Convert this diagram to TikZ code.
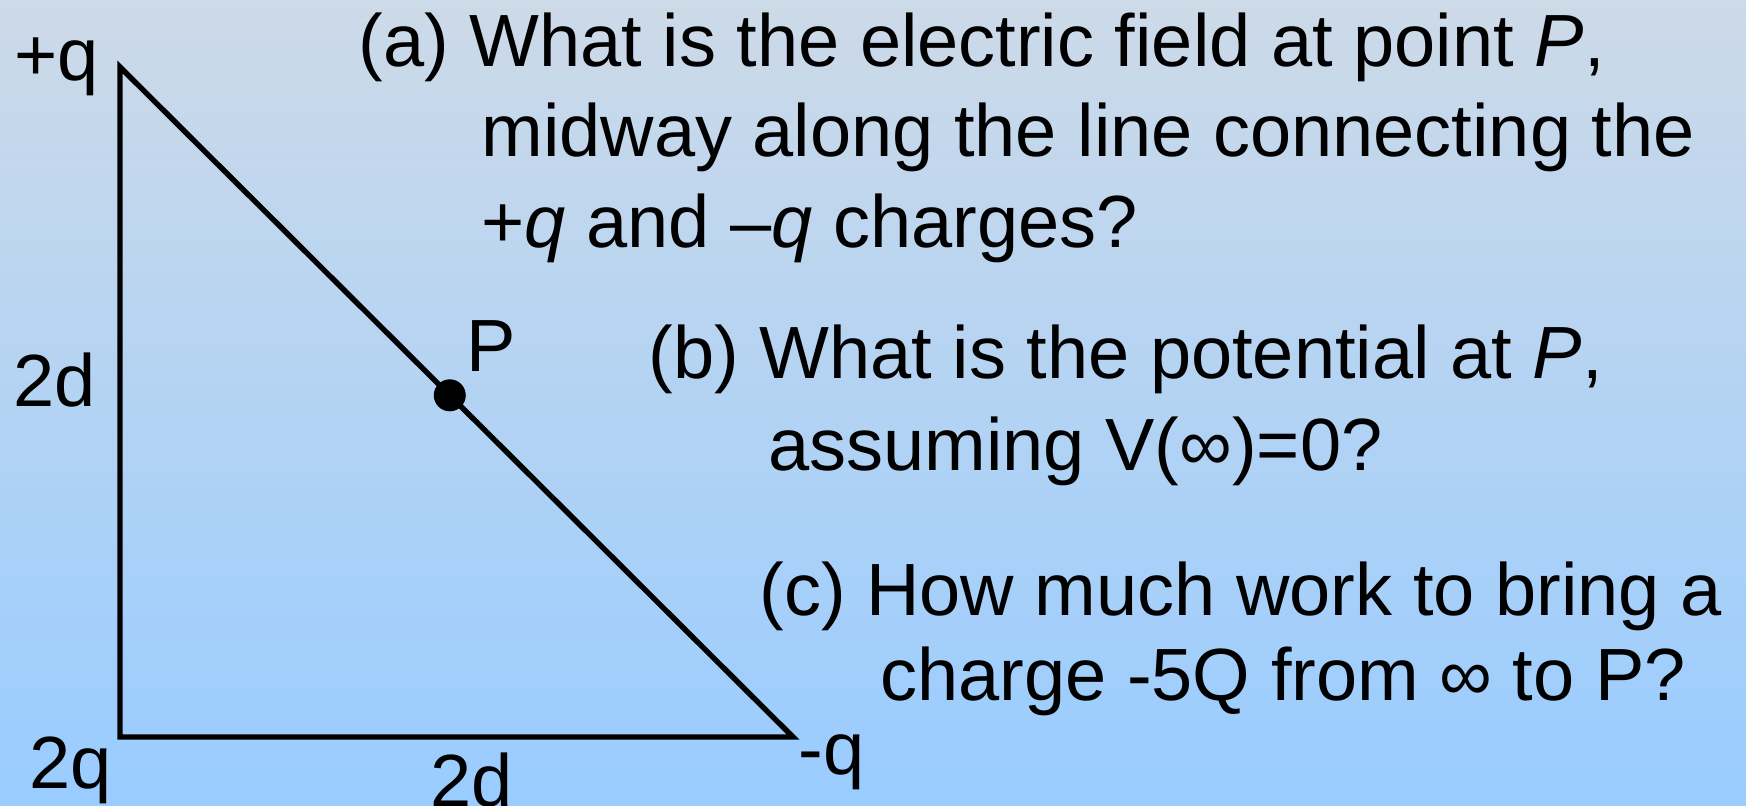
\documentclass[tikz,border=0pt]{standalone}
\usepackage{fontspec}
\setmainfont{Liberation Sans}
\usetikzlibrary{calc}
\definecolor{bgtop}{RGB}{205,218,232}
\definecolor{bgbottom}{RGB}{153,204,255}

\begin{document}
\begin{tikzpicture}
[
	x=0.5pt, y=-0.5pt,
	txt/.style={anchor=base west,inner sep=0pt,font=\fontsize{37}{44}\selectfont},
	side/.style={line width=2.7pt},
	dotpt/.style={circle,fill,inner sep=0pt,minimum size=16pt}
]

	% background
	\shade[top color=bgtop, bottom color=bgbottom] (0,0) rectangle (1746,805);
	\useasboundingbox (0,0) rectangle (1746,805);

	% triangle
	\coordinate (top) at (120,67);
	\coordinate (left) at (120,737);
	\coordinate (right) at (793,737);
	\draw[side] (top) -- (left) -- (right) -- cycle;
	\node[dotpt] (P) at ($(top)!0.49!(right)$) {};

	% labels
	\node[txt] (qtop) at (14,80) {+q};
	\node[txt] (dside) at (13,406) {2d};
	\node[txt] (qleft) at (29,788) {2q};
	\node[txt] (dbase) at (430,806) {2d};
	\node[txt] (qright) at (798,774) {-q};
	\node[txt] (Plabel) at (466,371) {P};

	% questions
	\node[txt] (qa1) at (358,66) {(a) What is the electric field at point \textit{P},};
	\node[txt] (qa2) at (481,156) {midway along the line connecting the};
	\node[txt] (qa3) at (481,247) {+\textit{q} and –\textit{q} charges?};
	\node[txt] (qb1) at (648,378) {(b) What is the potential at \textit{P},};
	\node[txt] (qb2) at (768,470) {assuming V(∞)=0?};
	\node[txt] (qc1) at (759,615) {(c) How much work to bring a};
	\node[txt] (qc2) at (880,700) {charge -5Q from ∞ to P?};

\end{tikzpicture}
\end{document}
